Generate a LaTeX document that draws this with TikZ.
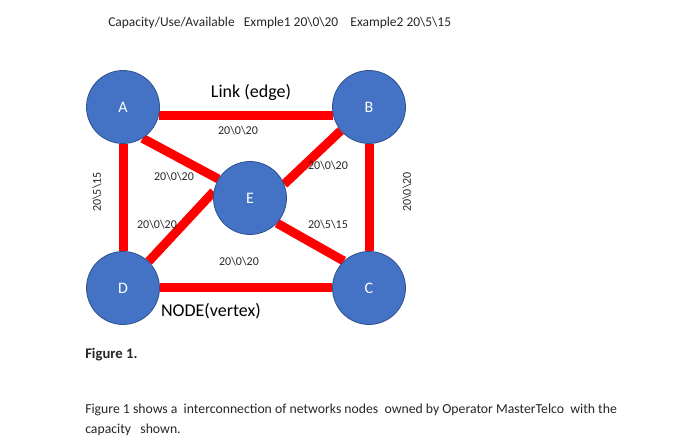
\documentclass[tikz,border=0pt]{standalone}
\usepackage{fontspec}
\setmainfont{Carlito}
\usetikzlibrary{backgrounds}
\definecolor{nodeblue}{HTML}{4472C4}
\definecolor{nodeline}{HTML}{2F528F}
\definecolor{linkred}{HTML}{FF0000}
\definecolor{ink}{HTML}{262626}
\newcommand{\cuv}[3]{#1\textbackslash #2\textbackslash #3}

\begin{document}
\begin{tikzpicture}[x=0.75pt,y=-0.75pt,
  vertex/.style={draw=nodeline,line width=0.6pt,circle,fill=nodeblue,minimum size=54.75pt,
    inner sep=0pt,text=white,font=\fontsize{12}{14}\selectfont},
  link/.style={linkred,line width=6.75pt},
  linkcap/.style={font=\fontsize{9}{10}\selectfont,text=ink},
  big/.style={font=\fontsize{13.5}{15}\selectfont,text=black},
  note/.style={font=\fontsize{10.3}{15}\selectfont,text=ink,anchor=west,inner sep=0pt}]
  \useasboundingbox (0,0) rectangle (700,445);
  % vertices
  \node[vertex] (A) at (123,107) {A};
  \node[vertex] (B) at (369,107) {B};
  \node[vertex] (C) at (369,288) {C};
  \node[vertex] (D) at (123,288) {D};
  \node[vertex] (E) at (250,198) {E};
  % links, under the vertices
  \begin{scope}[on background layer]
    \draw[link] (A.-14) -- (B.194);
    \draw[link] (A.south) -- (D.north);
    \draw[link] (B.south) -- (C.north);
    \draw[link] (D.east) -- (C.west);
    \draw[link] (A.-58) -- (E.149);
    \draw[link] (B.-140) -- (E.22);
    \draw[link] (D.46) -- (E.170);
    \draw[link] (E.-43) -- (C.133);
  \end{scope}
  % capacities
  \node[linkcap] (ab) at (238,131) {\cuv{20}{0}{20}};
  \node[linkcap] (ae) at (174,177) {\cuv{20}{0}{20}};
  \node[linkcap] (be) at (328,166) {\cuv{20}{0}{20}};
  \node[linkcap] (de) at (157,225) {\cuv{20}{0}{20}};
  \node[linkcap] (ec) at (328,225) {\cuv{20}{5}{15}};
  \node[linkcap] (dc) at (239,262) {\cuv{20}{0}{20}};
  \node[linkcap,rotate=90] (ad) at (97,192) {\cuv{20}{5}{15}};
  \node[linkcap,rotate=90] (bc) at (407,192) {\cuv{20}{0}{20}};
  % captions
  \node[big] (edge) at (251,92) {Link (edge)};
  \node[big] (vertex) at (211,311) {NODE(vertex)};
  \node[note,font=\fontsize{10.1}{12}\selectfont] (head) at (108,23) {Capacity/Use/Available\ \ \ Exmple1 \cuv{20}{0}{20}\ \ \ \ Example2 \cuv{20}{5}{15}};
  \node[note,font=\fontsize{11}{13}\bfseries] (fig) at (85,355) {Figure 1.};
  \node[note,align=left] (text) at (85,420) {Figure 1 shows a\ \ interconnection of networks nodes\ \ owned by Operator MasterTelco\ \ with the\\capacity\ \ \ shown.};
\end{tikzpicture}
\end{document}
